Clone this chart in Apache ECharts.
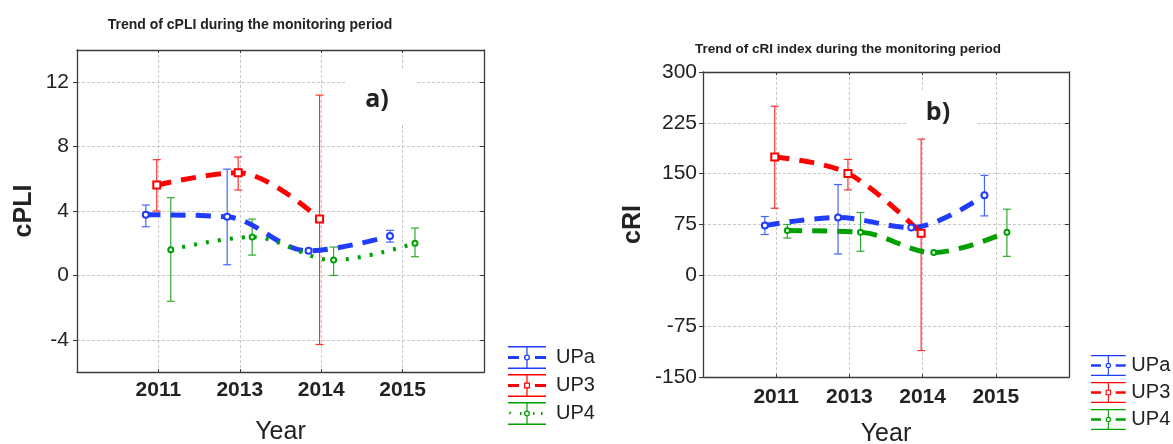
<!DOCTYPE html>
<html>
<head>
<meta charset="utf-8">
<script src="https://cdn.jsdelivr.net/npm/echarts@6/dist/echarts.min.js"></script>
<style>
  html, body { margin: 0; padding: 0; background: #fff; }
  #chart { width: 1173px; height: 444px; }
</style>
</head>
<body>
<div id="chart"></div>
<script>
const years = ['2011', '2013', '2014', '2015'];
const groups = ['UPa', 'UP3', 'UP4'];

// a) cPLI: means with lower / upper limits
const cpliUPa = [3.77, 3.64, 1.53, 2.44];
const cpliUPaLow = [3.02, 0.66, null, 2.07];
const cpliUPaHigh = [4.37, 6.6, null, 2.8];
const cpliUP3 = [5.61, 6.38, 3.5, null];
const cpliUP3Low = [4.0, 5.3, -4.29, null];
const cpliUP3High = [7.19, 7.35, 11.2, null];
const cpliUP4 = [1.6, 2.38, 0.95, 2.0];
const cpliUP4Low = [-1.61, 1.26, 0, 1.16];
const cpliUP4High = [4.83, 3.5, 1.76, 2.94];
const cpliTicks = [-4, 0, 4, 8, 12];

// b) cRI: means with lower / upper limits
const criUPa = [73.5, 85.3, 70.5, 118];
const criUPaLow = [60.2, 31.5, null, 87.7];
const criUPaHigh = [86.8, 134, null, 147.5];
const criUP3 = [174.5, 150.4, 62, null];
const criUP3Low = [99, 126, -111, null];
const criUP3High = [249.5, 171, 201, null];
const criUP4 = [66, 63.6, 33.6, 63.6];
const criUP4Low = [55, 35.5, null, 28];
const criUP4High = [75, 92.7, null, 97.6];
const criTicks = [-150, -75, 0, 75, 150, 225, 300];

// look of each group
const shift = { UPa: -0.155, UP3: -0.02, UP4: 0.152 };
const lineColor = { UPa: '#1f3cff', UP3: '#ff0000', UP4: '#00a000' };
const barColor = { UPa: '#4563ff', UP3: '#ff3030', UP4: '#30aa30' };
const symbol = { UPa: 'emptyCircle', UP3: 'emptyRect', UP4: 'emptyCircle' };
const symbolSize = { UPa: 6, UP3: 7, UP4: 5 };

const font = 'Liberation Sans, Arial, sans-serif';
const frame = { onZero: false, lineStyle: { color: '#3a3a3a', width: 1.3 } };
const grid = { show: true, lineStyle: { color: '#c8c8c8', width: 1, type: [3, 2] } };

function points(vals, dx) {
  return vals.map((v, i) => (v == null ? null : [i + dx, v])).filter(Boolean);
}

function limits(vals, low, high, dx) {
  return vals.map((v, i) => (low[i] == null ? null : [i + dx, low[i], high[i]])).filter(Boolean);
}

function errorBar(params, api) {
  const top = api.coord([api.value(0), api.value(2)]);
  const bot = api.coord([api.value(0), api.value(1)]);
  const style = { stroke: api.visual('color'), lineWidth: 1.2 };
  return {
    type: 'group',
    children: [
      { type: 'line', shape: { x1: top[0], y1: top[1], x2: bot[0], y2: bot[1] }, style },
      { type: 'line', shape: { x1: top[0] - 4, y1: top[1], x2: top[0] + 4, y2: top[1] }, style },
      { type: 'line', shape: { x1: bot[0] - 4, y1: bot[1], x2: bot[0] + 4, y2: bot[1] }, style },
    ],
  };
}

function xAxes(gridIndex, labelMargin, nameGap) {
  return [
    {
      type: 'value', gridIndex, min: -1, max: 4, interval: 1, position: 'bottom',
      name: 'Year', nameLocation: 'middle', nameGap,
      nameTextStyle: { fontSize: 25, color: '#222', fontFamily: font },
      axisLine: frame,
      axisTick: { inside: true, length: 3, lineStyle: { color: '#3a3a3a' } },
      axisLabel: {
        formatter: (v) => years[v] || '', margin: labelMargin,
        fontSize: 21, fontWeight: 'bold', color: '#222', fontFamily: font,
      },
      splitLine: grid,
    },
    {
      type: 'value', gridIndex, min: -1, max: 4, interval: 1, position: 'top',
      axisLine: frame,
      axisTick: { inside: true, length: 3, lineStyle: { color: '#3a3a3a' } },
      axisLabel: { show: false },
      splitLine: { show: false },
    },
  ];
}

function yAxes(gridIndex, min, max, ticks, name, nameGap, labelMargin) {
  return [
    {
      type: 'value', gridIndex, min, max, position: 'left',
      name, nameLocation: 'middle', nameRotate: 90, nameGap,
      nameTextStyle: { fontSize: 25, fontWeight: 'bold', color: '#222', fontFamily: font },
      axisLine: { show: true, ...frame },
      axisTick: { customValues: ticks, length: 4, lineStyle: { color: '#3a3a3a' } },
      axisLabel: { customValues: ticks, margin: labelMargin, fontSize: 21, color: '#222', fontFamily: font },
      splitLine: grid,
    },
    {
      type: 'value', gridIndex, min, max, position: 'right',
      axisLine: { show: true, ...frame },
      axisTick: { customValues: ticks, inside: true, length: 4, lineStyle: { color: '#3a3a3a' } },
      axisLabel: { show: false },
      splitLine: { show: false },
    },
  ];
}

function seriesFor(axisIndex, table, dotted) {
  const out = [];
  groups.forEach((g) => {
    const [mean] = table[g];
    const dots = dotted && g === 'UP4';
    out.push({
      type: 'line', name: g, xAxisIndex: axisIndex, yAxisIndex: axisIndex,
      data: points(mean, shift[g]), smooth: 0.35,
      symbol: symbol[g], symbolSize: symbolSize[g], z: 4,
      itemStyle: { color: lineColor[g], borderWidth: 1.2 },
      lineStyle: { color: lineColor[g], width: dots ? 4 : 5, type: dots ? [3, 9] : [15, 10] },
    });
  });
  groups.forEach((g) => {
    const [mean, low, high] = table[g];
    out.push({
      type: 'custom', name: g, xAxisIndex: axisIndex, yAxisIndex: axisIndex,
      renderItem: errorBar, encode: { x: 0, y: [1, 2] },
      itemStyle: { color: barColor[g] }, z: 3,
      data: limits(mean, low, high, shift[g]),
    });
  });
  return out;
}

// legend glyph: whisker caps, stem, dashed (or dotted) line and hollow marker
const caps = 'M0 0H38V1.4H0Z M0 21.6H38V23H0Z M18.4 1.4H19.6V8.5H18.4Z M18.4 14.5H19.6V21.6H18.4Z ';
const dashes = 'M0 10H11V13H0Z M27 10H38V13H27Z ';
const dots = 'M0.5 11.5L2.5 9.5L3.5 10.5L1.5 12.5Z M12 10H13.5V13H12Z M25 10H26.5V13H25Z M33 10H34.5V13H33Z ';
const ring = 'M22 11.5A3 3 0 1 0 16 11.5A3 3 0 1 0 22 11.5Z M20.7 11.5A1.7 1.7 0 1 1 17.3 11.5A1.7 1.7 0 1 1 20.7 11.5Z';
const square = 'M16 8.5H22V14.5H16Z M17.2 9.7V13.3H20.8V9.7Z';
const markerPath = { UPa: ring, UP3: square, UP4: ring };

function legendItems(dotted) {
  return groups.map((g) => ({
    name: g,
    icon: 'path://' + caps + (dotted && g === 'UP4' ? dots : dashes) + markerPath[g],
    itemStyle: { color: lineColor[g], borderWidth: 0 },
  }));
}

const cpliTable = {
  UPa: [cpliUPa, cpliUPaLow, cpliUPaHigh],
  UP3: [cpliUP3, cpliUP3Low, cpliUP3High],
  UP4: [cpliUP4, cpliUP4Low, cpliUP4High],
};
const criTable = {
  UPa: [criUPa, criUPaLow, criUPaHigh],
  UP3: [criUP3, criUP3Low, criUP3High],
  UP4: [criUP4, criUP4Low, criUP4High],
};

const chart = echarts.init(document.getElementById('chart'), null, { renderer: 'canvas' });
chart.setOption({
  animation: false,
  backgroundColor: '#fff',
  title: [
    {
      text: 'Trend of cPLI during the monitoring period', left: 245, top: 13, textAlign: 'center',
      textStyle: { fontSize: 14, fontWeight: 'bold', color: '#222', fontFamily: font },
    },
    {
      text: 'Trend of cRI index during the monitoring period', left: 843, top: 37, textAlign: 'center',
      textStyle: { fontSize: 13.5, fontWeight: 'bold', color: '#222', fontFamily: font },
    },
  ],
  grid: [
    { left: 77, top: 50, width: 407, height: 322, outerBoundsMode: 'none' },
    { left: 703, top: 72, width: 366, height: 305, outerBoundsMode: 'none' },
  ],
  xAxis: [...xAxes(0, 8, 48), ...xAxes(1, 10, 45)],
  yAxis: [
    ...yAxes(0, -6, 14, cpliTicks, 'cPLI', 40, 8),
    ...yAxes(1, -150, 300, criTicks, 'cRI', 57, 6),
  ],
  legend: [
    {
      orient: 'vertical', left: 503, top: 341, itemWidth: 38, itemHeight: 23, itemGap: 5,
      selectedMode: false, data: legendItems(true),
      textStyle: { fontSize: 20, color: '#222', fontFamily: font, padding: [0, 0, 0, 5] },
    },
    {
      orient: 'vertical', left: 1086, top: 350, itemWidth: 36, itemHeight: 21, itemGap: 6,
      selectedMode: false, data: legendItems(false),
      textStyle: { fontSize: 20, color: '#222', fontFamily: font },
    },
  ],
  graphic: [
    { type: 'rect', z: 1, shape: { x: 345, y: 68, width: 71, height: 57 }, style: { fill: '#fff' } },
    { type: 'rect', z: 1, shape: { x: 907, y: 92, width: 70, height: 44 }, style: { fill: '#fff' } },
    {
      type: 'text', z: 5, x: 377, y: 100,
      style: { text: 'a)', font: 'bold 25px "Open Sans", sans-serif', fill: '#222', align: 'center', verticalAlign: 'middle' },
    },
    {
      type: 'text', z: 5, x: 938, y: 113,
      style: { text: 'b)', font: 'bold 25px "Open Sans", sans-serif', fill: '#222', align: 'center', verticalAlign: 'middle' },
    },
  ],
  series: [...seriesFor(0, cpliTable, true), ...seriesFor(2, criTable, false)],
});
</script>
</body>
</html>
